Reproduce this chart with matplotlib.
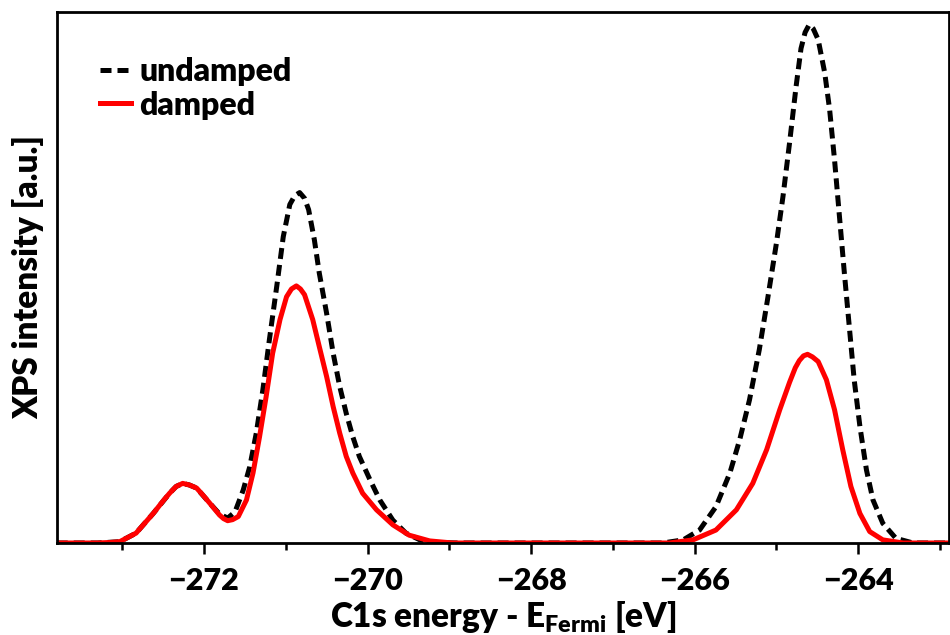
import matplotlib
matplotlib.use('Agg')
import matplotlib.pyplot as plt
from matplotlib.ticker import MultipleLocator, NullLocator

##Fonts: heavy sans everywhere, subscript in the same font
plt.rcParams['font.family'] = ['Lato', 'DejaVu Sans']
plt.rcParams['font.weight'] = 'heavy'
plt.rcParams['axes.labelweight'] = 'heavy'
plt.rcParams['mathtext.fontset'] = 'custom'
plt.rcParams['mathtext.rm'] = 'Lato:heavy'
plt.rcParams['mathtext.bf'] = 'Lato:heavy'
plt.rcParams['mathtext.default'] = 'rm'

##Undamped spectrum (energy in eV, intensity in a.u.)
energy_undamped = [-273.80, -273.30, -273.03, -272.83, -272.62, -272.42, -272.34, -272.26,
                   -272.18, -272.09, -271.93, -271.81, -271.71, -271.62, -271.52, -271.44,
                   -271.36, -271.28, -271.20, -271.11, -271.03, -270.95, -270.89, -270.83,
                   -270.77, -270.72, -270.65, -270.59, -270.50, -270.42, -270.34, -270.26,
                   -270.18, -270.10, -269.97, -269.85, -269.69, -269.53, -269.36, -269.16,
                   -268.90,
                   -266.60, -266.39, -266.14, -265.94, -265.74, -265.57, -265.45, -265.33,
                   -265.21, -265.11, -265.00, -264.92, -264.84, -264.76, -264.70, -264.65,
                   -264.60, -264.55, -264.49, -264.41, -264.35, -264.29, -264.23, -264.17,
                   -264.11, -264.05, -263.98, -263.90, -263.82, -263.70, -263.54, -263.33,
                   -262.80]
intensity_undamped = [0.0, 0.0, 0.0025, 0.019, 0.057, 0.096, 0.109, 0.115,
                      0.112, 0.106, 0.077, 0.056, 0.048, 0.060, 0.102, 0.147,
                      0.212, 0.295, 0.392, 0.495, 0.591, 0.653, 0.670, 0.676,
                      0.665, 0.643, 0.585, 0.521, 0.443, 0.366, 0.302, 0.250,
                      0.205, 0.167, 0.122, 0.083, 0.044, 0.019, 0.006, 0.001,
                      0.0,
                      0.0, 0.0, 0.006, 0.025, 0.070, 0.135, 0.199, 0.276,
                      0.373, 0.469, 0.579, 0.669, 0.772, 0.881, 0.954, 0.985,
                      1.000, 0.992, 0.971, 0.907, 0.836, 0.739, 0.630, 0.521,
                      0.418, 0.315, 0.225, 0.141, 0.083, 0.038, 0.009, 0.0,
                      0.0]

##Damped spectrum
energy_damped = [-273.80, -273.30, -273.15, -273.03, -272.83, -272.62, -272.50, -272.42,
                 -272.34, -272.26, -272.18, -272.09, -272.01, -271.93, -271.81, -271.76,
                 -271.71, -271.65, -271.58, -271.48, -271.40, -271.32, -271.24, -271.16,
                 -271.07, -270.99, -270.93, -270.87, -270.82, -270.77, -270.67, -270.59,
                 -270.50, -270.42, -270.34, -270.26, -270.18, -270.06, -269.89, -269.69,
                 -269.49, -269.24, -268.96,
                 -266.60, -266.31, -266.02, -265.74, -265.49, -265.29, -265.12, -264.96,
                 -264.84, -264.77, -264.72, -264.67, -264.62, -264.56, -264.49, -264.39,
                 -264.29, -264.19, -264.09, -263.98, -263.86, -263.70, -263.45, -262.80]
intensity_damped = [0.0, 0.0, 0.001, 0.0025, 0.019, 0.057, 0.081, 0.096,
                    0.109, 0.115, 0.112, 0.106, 0.092, 0.077, 0.054, 0.047,
                    0.043, 0.045, 0.051, 0.083, 0.135, 0.205, 0.282, 0.366,
                    0.431, 0.475, 0.490, 0.496, 0.490, 0.479, 0.431, 0.379,
                    0.321, 0.263, 0.212, 0.167, 0.135, 0.096, 0.064, 0.035,
                    0.015, 0.004, 0.0,
                    0.0, 0.0, 0.006, 0.025, 0.064, 0.115, 0.180, 0.257,
                    0.310, 0.338, 0.352, 0.361, 0.364, 0.359, 0.350, 0.315,
                    0.257, 0.180, 0.109, 0.057, 0.022, 0.006, 0.0, 0.0]

fig = plt.figure(figsize=(9.5, 6.35), dpi=100)
ax = fig.add_axes([0.0597, 0.1449, 0.9393, 0.8367])

ax.plot(energy_undamped, intensity_undamped, color='black', lw=3.6,
        linestyle=(0, (2.2, 1.2)), label='undamped')
ax.plot(energy_damped, intensity_damped, color='red', lw=3.6, label='damped')

ax.set_xlim(-273.80, -262.89)
ax.set_ylim(0, 1.025)

##Ticks only on the energy axis
ax.xaxis.set_major_locator(MultipleLocator(2))
ax.xaxis.set_minor_locator(MultipleLocator(1))
ax.yaxis.set_major_locator(NullLocator())
ax.tick_params(axis='x', which='major', direction='out', length=8, width=1.8, labelsize=22, pad=9)
ax.tick_params(axis='x', which='minor', direction='out', length=5, width=1.8)
for s in ax.spines.values():
    s.set_linewidth(2)

ax.set_xlabel(r'C1s energy - E$_{\mathbf{Fermi}}$ [eV]', fontsize=24, labelpad=3)
ax.set_ylabel('XPS intensity [a.u.]', fontsize=24, labelpad=9)

ax.legend(loc='upper left', bbox_to_anchor=(0.048, 0.915), frameon=False, fontsize=23,
          handlelength=1.0, handletextpad=0.25, labelspacing=0.15,
          borderpad=0.0, borderaxespad=0.0)

plt.savefig('out.png', dpi=100)
